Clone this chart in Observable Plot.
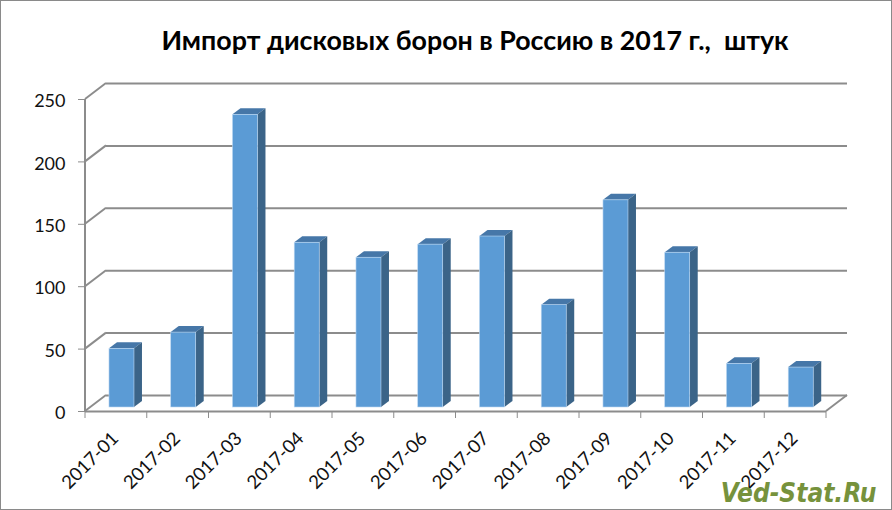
<!DOCTYPE html>
<html>
<head>
<meta charset="utf-8">
<script src="https://cdn.jsdelivr.net/npm/d3@7"></script>
<script src="https://cdn.jsdelivr.net/npm/@observablehq/plot@0.6"></script>
<style>
html,body{margin:0;padding:0;background:#fff;overflow:hidden}
svg{display:block;outline:1px solid #8a8a8a;outline-offset:-1px}
</style>
</head>
<body>
<div id="chart"></div>
<script>
const months = ["2017-01","2017-02","2017-03","2017-04","2017-05","2017-06","2017-07","2017-08","2017-09","2017-10","2017-11","2017-12"];
const imports = [47,60,234.5,132,120,130.5,137,82,166,124,35,32];
const yTicks = [0,50,100,150,200,250];
const titleText = "Импорт дисковых борон в Россию в 2017 г.,  штук";
const watermark = "Ved-Stat.Ru";
const gray = "#8c8c8c";
const wallDx = 21, wallDy = -16;
const barDx = 5.6, barDy = -4, barW = 25, depthX = 8, depthY = -6;
const bandW = 741 / 12;

function polys(points, fill) {
  return d3.create("svg:polygon").attr("points", points.map(p => p.join(",")).join(" ")).attr("fill", fill).node();
}
function frame3d(index, {x, y}) {
  const g = d3.create("svg:g").attr("stroke", gray).attr("fill", "none");
  const left = x.range()[0], right = x.range()[1];
  for (const t of yTicks) {
    g.append("line").attr("x1", left).attr("x2", left + wallDx).attr("y1", y(t)).attr("y2", y(t) + wallDy).attr("stroke-width", 2);
  }
  g.append("line").attr("x1", right).attr("x2", right + wallDx).attr("y1", y(0)).attr("y2", y(0) + wallDy).attr("stroke-width", 2);
  g.append("line").attr("x1", left).attr("x2", left).attr("y1", y(0)).attr("y2", y(250)).attr("stroke-width", 2);
  for (const m of months) {
    g.append("line").attr("x1", x(m)).attr("x2", x(m)).attr("y1", y(0)).attr("y2", y(0) + 7).attr("stroke-width", 1);
  }
  g.append("line").attr("x1", right).attr("x2", right).attr("y1", y(0)).attr("y2", y(0) + 7).attr("stroke-width", 1);
  return g.node();
}
function faces3d(index, {x, y}) {
  const g = d3.create("svg:g");
  months.forEach((m, i) => {
    const cx = x(m) + x.bandwidth() / 2 + barDx;
    const l = cx - barW / 2, r = cx + barW / 2;
    const top = y(imports[i]) + barDy, bot = y(0) + barDy;
    g.append(() => polys([[l, top], [r, top], [r + depthX, top + depthY], [l + depthX, top + depthY]], "#4677a8"));
    g.append(() => polys([[r, top], [r + depthX, top + depthY], [r + depthX, bot + depthY], [r, bot]], "#3b6488"));
  });
  return g.node();
}

const chart = Plot.plot({
  width: 892, height: 510,
  marginLeft: 85, marginRight: 66, marginTop: 99, marginBottom: 99,
  style: {fontFamily: "Lato, 'Open Sans', sans-serif", background: "white"},
  x: {domain: months, padding: 0, round: false, label: null},
  y: {domain: [0, 250], label: null},
  marks: [
    Plot.ruleY(yTicks, {y: d => d, dx: wallDx, dy: wallDy, stroke: gray, strokeWidth: 2}),
    Plot.ruleY([0], {stroke: gray, strokeWidth: 2}),
    frame3d,
    Plot.axisY({ticks: yTicks, tickSize: 7, text: null, stroke: gray, label: null}),
    Plot.axisY({ticks: yTicks, tickSize: 0, tickPadding: 20, dy: 2, fontSize: 18, fill: "#111", label: null}),
    Plot.axisX({tickSize: 0, tickRotate: -45, tickPadding: 24, dx: -1, fontSize: 18.5, fill: "#111", label: null}),
    faces3d,
    Plot.barY(imports, {x: months, y: d => d, dx: barDx, dy: barDy, insetLeft: (bandW - barW) / 2, insetRight: (bandW - barW) / 2, fill: "#5b9bd5", stroke: "#bcd8f2", strokeWidth: 0.6}),
    Plot.text([titleText], {text: d => d, frameAnchor: "top", dx: 19, dy: -58, lineAnchor: "middle", fontSize: 26.8, fontWeight: 700, fill: "#000"}),
    Plot.text([watermark], {text: d => d, frameAnchor: "bottom-right", textAnchor: "end", lineAnchor: "bottom", dx: 50, dy: 90, fontFamily: "'DejaVu Sans Condensed','Open Sans'", fontSize: 26, fontWeight: 700, fontStyle: "italic", fill: "#76923c"})
  ]
});
document.getElementById("chart").append(chart);
</script>
</body>
</html>
